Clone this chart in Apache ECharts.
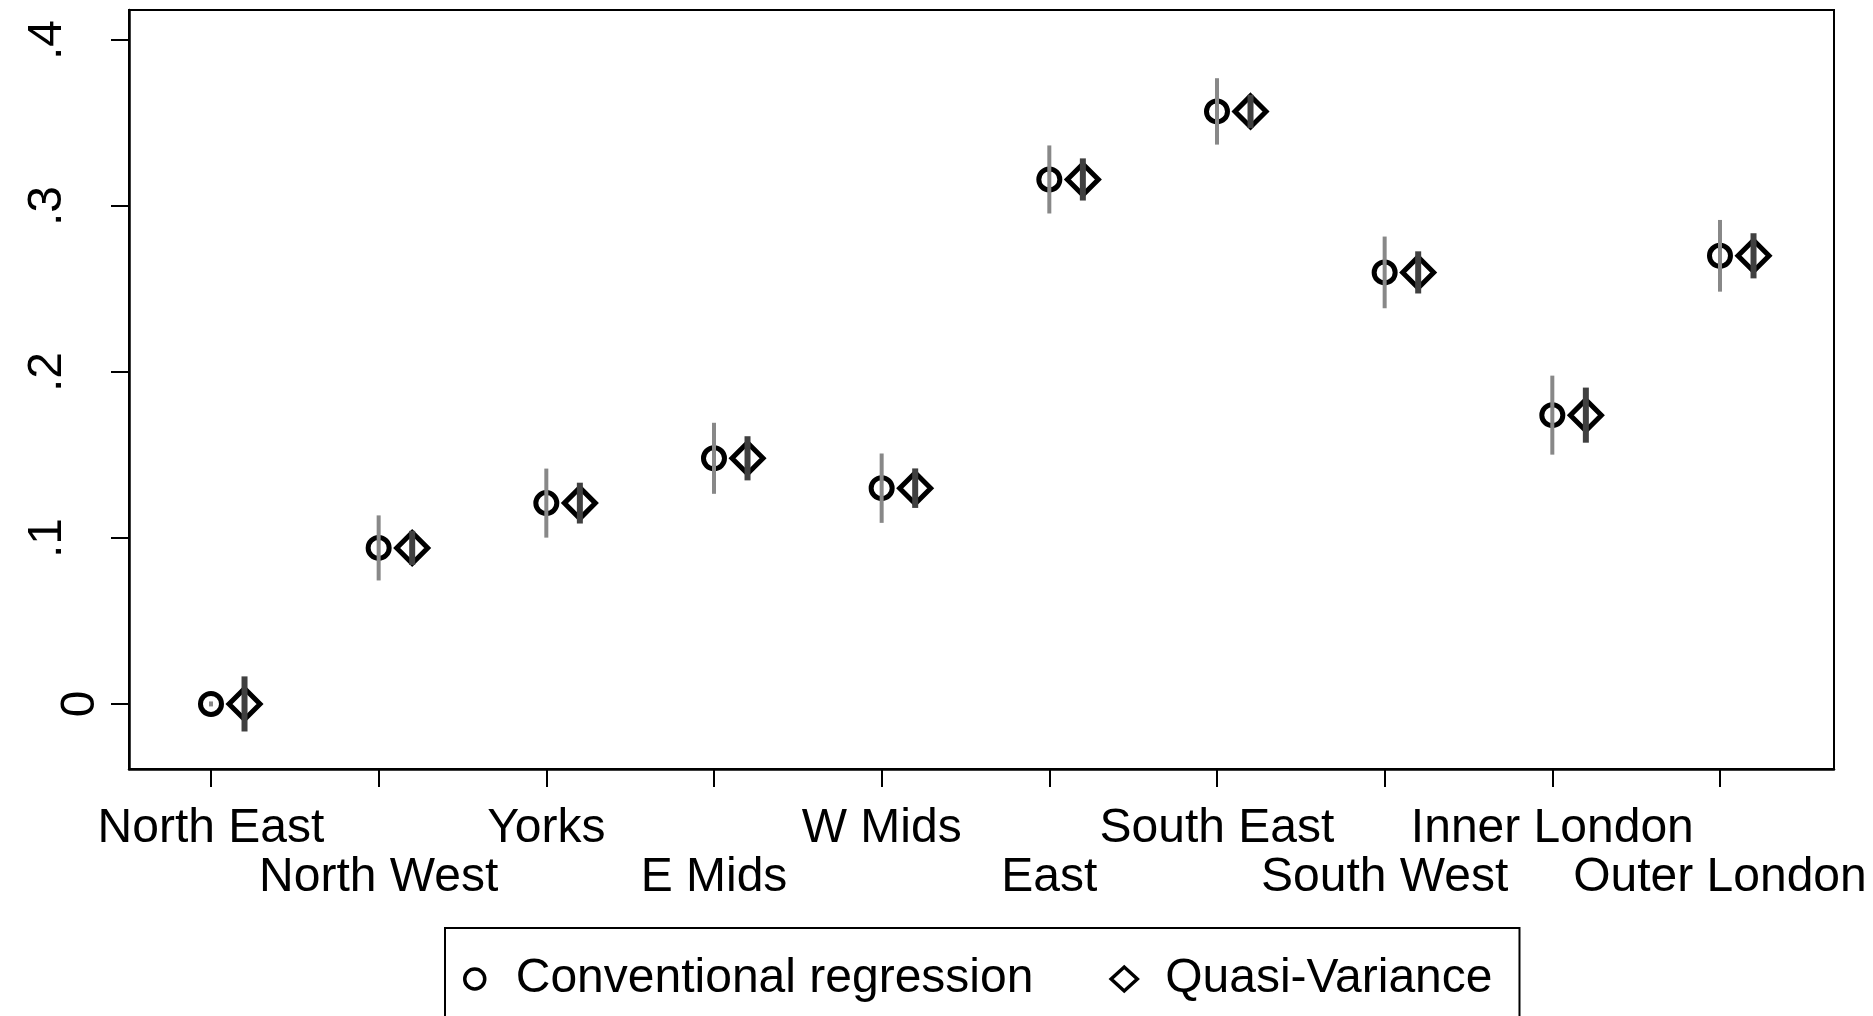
<!DOCTYPE html>
<html>
<head>
<meta charset="utf-8">
<script src="https://cdn.jsdelivr.net/npm/echarts@6/dist/echarts.min.js"></script>
<style>
html,body{margin:0;padding:0;background:#fff;}
#chart{width:1873px;height:1016px;}
</style>
</head>
<body>
<div id="chart"></div>
<script>
// ---- data ----
const regions = ['North East','North West','Yorks','E Mids','W Mids','East','South East','South West','Inner London','Outer London'];
const estimates = [0, 0.094, 0.121, 0.148, 0.130, 0.316, 0.357, 0.260, 0.174, 0.270];
const convHalfCI = [0.0015, 0.0196, 0.0208, 0.0214, 0.0209, 0.0205, 0.0200, 0.0216, 0.0238, 0.0216];
const qvHalfCI = [0.0166, 0.0103, 0.0123, 0.0133, 0.0119, 0.0127, 0.0100, 0.0127, 0.0166, 0.0136];
const yTicks = [0, 0.1, 0.2, 0.3, 0.4];
const xTicks = [0, 1, 2, 3, 4, 5, 6, 7, 8, 9];
const xTicksUpperRow = [0, 2, 4, 6, 8];
const xTicksLowerRow = [1, 3, 5, 7, 9];
const qvOffset = 0.2;

const FONT = '"Liberation Sans", Arial, Helvetica, sans-serif';
const FS = 48;

const convPts = estimates.map((v, i) => [i, v]);
const qvPts = estimates.map((v, i) => [i + qvOffset, v]);
const convCI = estimates.map((v, i) => [i, v - convHalfCI[i], v + convHalfCI[i]]);
const qvCI = estimates.map((v, i) => [i + qvOffset, v - qvHalfCI[i], v + qvHalfCI[i]]);

function ciRenderer(color, width) {
  return function (params, api) {
    const x = api.value(0);
    const p1 = api.coord([x, api.value(1)]);
    const p2 = api.coord([x, api.value(2)]);
    return {
      type: 'line',
      shape: { x1: p1[0], y1: p1[1], x2: p2[0], y2: p2[1] },
      style: { stroke: color, lineWidth: width, lineCap: 'butt' }
    };
  };
}
function regionLabel(v) { return regions[Math.round(v)] || ''; }

const chart = echarts.init(document.getElementById('chart'), null, { renderer: 'canvas' });
chart.setOption({
  backgroundColor: '#fff',
  animation: false,
  grid: {
    left: 129, top: 10, width: 1705, height: 759,
    show: true, borderColor: '#000', borderWidth: 2, containLabel: false
  },
  xAxis: [
    {
      type: 'value', position: 'bottom',
      min: -0.489, max: 9.68,
      axisLine: { show: true, onZero: false, lineStyle: { color: '#000', width: 2.5 } },
      axisTick: { show: true, inside: false, length: 18, customValues: xTicks, lineStyle: { color: '#000', width: 2 } },
      splitLine: { show: false },
      axisLabel: {
        customValues: xTicksUpperRow,
        showMinLabel: true, showMaxLabel: true,
        margin: 35,
        fontSize: FS, lineHeight: 50, color: '#000', fontFamily: FONT,
        formatter: regionLabel
      }
    },
    {
      type: 'value', position: 'bottom',
      min: -0.489, max: 9.68,
      axisLine: { show: false, onZero: false },
      axisTick: { show: false },
      splitLine: { show: false },
      axisLabel: {
        customValues: xTicksLowerRow,
        showMinLabel: true, showMaxLabel: true,
        margin: 84,
        fontSize: FS, lineHeight: 50, color: '#000', fontFamily: FONT,
        formatter: regionLabel
      }
    }
  ],
  yAxis: {
    type: 'value',
    min: -0.0392, max: 0.4181,
    axisLine: { show: true, onZero: false, lineStyle: { color: '#000', width: 2.5 } },
    axisTick: { show: true, inside: false, length: 18, customValues: yTicks, lineStyle: { color: '#000', width: 2 } },
    splitLine: { show: false },
    axisLabel: {
      customValues: yTicks,
      showMinLabel: true, showMaxLabel: true,
      rotate: 90,
      margin: 24,
      color: '#000', fontSize: FS, fontFamily: FONT,
      formatter: function (v) {
        if (Math.abs(v) < 1e-9) return '{z|0}';
        return '{n|' + v.toFixed(1).replace(/^0/, '') + '}';
      },
      rich: {
        z: { fontSize: FS, fontFamily: FONT, color: '#000' },
        n: { fontSize: FS, fontFamily: FONT, color: '#000', padding: [0, 0, 33, 0] }
      }
    }
  },
  legend: {
    left: 445, top: 928,
    orient: 'horizontal',
    padding: [26, 27, 120, 16],
    itemWidth: 28, itemHeight: 24, itemGap: 76,
    borderColor: '#000', borderWidth: 2,
    selectedMode: false,
    textStyle: { fontSize: FS, lineHeight: 50, color: '#000', fontFamily: FONT, padding: [0, 0, 0, 22] },
    data: [
      { name: 'Conventional regression',
        icon: 'path://M0,0 M24,24 M2,12 A10,10 0 1,1 22,12 A10,10 0 1,1 2,12 Z',
        itemStyle: { color: '#fff', borderColor: '#000', borderWidth: 3.5 } },
      { name: 'Quasi-Variance', icon: 'path://M0,11 L12,0 L24,11 L12,22 Z',
        itemStyle: { color: '#fff', borderColor: '#000', borderWidth: 3.5 } }
    ]
  },
  series: [
    {
      name: 'Conventional regression', type: 'scatter', data: convPts,
      symbol: 'circle', symbolSize: 21, z: 2,
      itemStyle: { color: 'rgba(255,255,255,0)', borderColor: '#000', borderWidth: 5, opacity: 1 }
    },
    {
      name: 'Quasi-Variance', type: 'scatter', data: qvPts,
      symbol: 'diamond', symbolSize: 31, z: 2,
      itemStyle: { color: 'rgba(255,255,255,0)', borderColor: '#000', borderWidth: 5, opacity: 1 }
    },
    {
      name: 'Conventional CI', type: 'custom', data: convCI, z: 5,
      encode: { x: 0, y: [1, 2] },
      renderItem: ciRenderer('#888888', 4)
    },
    {
      name: 'Quasi-Variance CI', type: 'custom', data: qvCI, z: 5,
      encode: { x: 0, y: [1, 2] },
      renderItem: ciRenderer('#404040', 6)
    }
  ]
});
</script>
</body>
</html>
